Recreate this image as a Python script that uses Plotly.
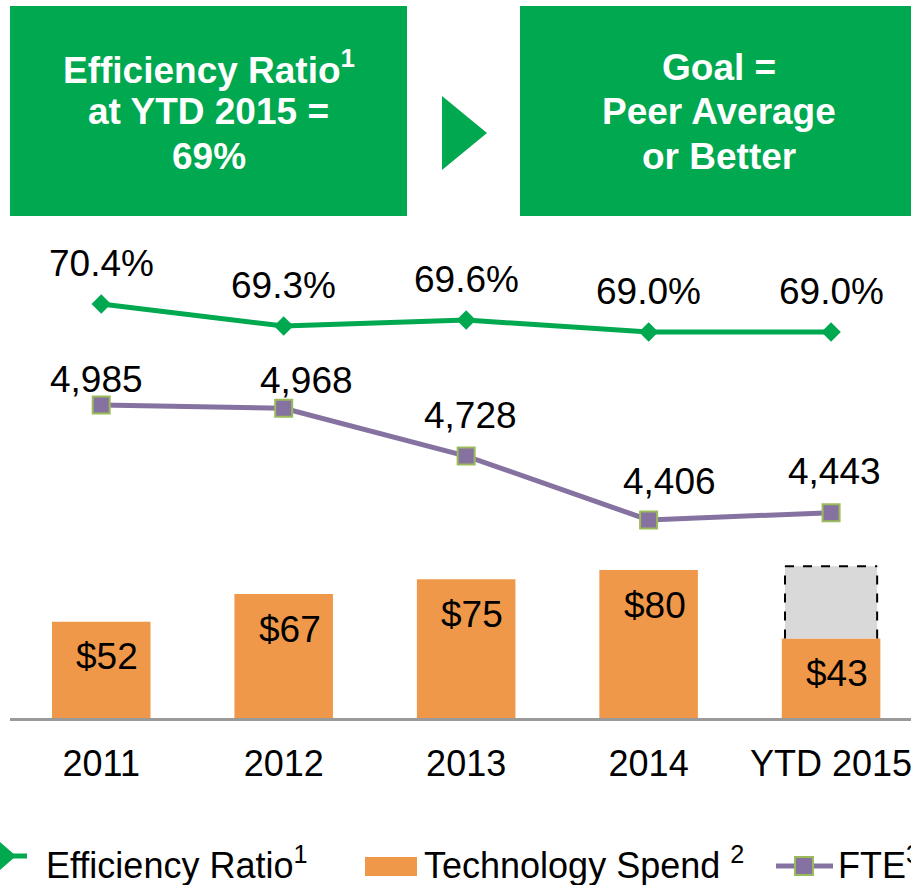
import plotly.graph_objects as go

# ---------------- data ----------------
years = ["2011", "2012", "2013", "2014", "YTD 2015"]
efficiency_ratio = [70.4, 69.3, 69.6, 69.0, 69.0]          # %
fte = [4985, 4968, 4728, 4406, 4443]                        # headcount
tech_spend = [52, 67, 75, 80, 43]                           # $ millions
tech_spend_full_year_est = [None, None, None, None, 82]     # dashed grey estimate

eff_labels = [f"{v:.1f}%" for v in efficiency_ratio]
fte_labels = [f"{v:,}" for v in fte]
tech_labels = [f"${v}" for v in tech_spend]

# ---------------- style ----------------
GREEN = "#00A84F"
ORANGE = "#F0984A"
PURPLE = "#8572A0"
PURPLE_EDGE = "#9BBB59"
GREY_FILL = "#D9D9D9"
AXIS_GREY = "#9A9A9A"
FONT = "Liberation Sans, Arial, sans-serif"

W, H = 911, 885
L, R, T, B = 10, 911, 230, 718   # plot area in pixels


def px(x):
    return (x - L) / (R - L)


def py(y):
    return (B - y) / (B - T)


fig = go.Figure()

# bars
fig.add_trace(go.Bar(
    x=years, y=tech_spend, yaxis="y", width=0.54,
    marker=dict(color=ORANGE, line=dict(width=0)),
    name="Technology Spend", showlegend=False, hoverinfo="skip",
))
est_idx = [i for i, v in enumerate(tech_spend_full_year_est) if v is not None]
fig.add_trace(go.Bar(
    x=[years[i] for i in est_idx],
    y=[tech_spend_full_year_est[i] - tech_spend[i] for i in est_idx],
    base=[tech_spend[i] for i in est_idx],
    yaxis="y", width=0.505,
    marker=dict(color=GREY_FILL, line=dict(width=0)),
    showlegend=False, hoverinfo="skip",
))

# efficiency ratio line
fig.add_trace(go.Scatter(
    x=years, y=efficiency_ratio, yaxis="y2", mode="lines+markers",
    line=dict(color=GREEN, width=5),
    marker=dict(symbol="diamond", size=15, color=GREEN),
    showlegend=False, hoverinfo="skip",
))

# FTE line
fig.add_trace(go.Scatter(
    x=years, y=fte, yaxis="y3", mode="lines+markers",
    line=dict(color=PURPLE, width=5),
    marker=dict(symbol="square", size=17, color=PURPLE,
                line=dict(color=PURPLE_EDGE, width=2)),
    showlegend=False, hoverinfo="skip",
))

annotations = []
label_font = dict(family=FONT, size=37, color="black")

# efficiency labels (x given as category index)
for i, (v, t) in enumerate(zip(efficiency_ratio, eff_labels)):
    annotations.append(dict(x=i, y=v, xref="x", yref="y2", text=t, showarrow=False,
                            yanchor="middle", yshift=41, font=label_font))

# FTE labels (a couple nudged as in original)
fte_shift = [(-5, 25), (23, 28), (4, 41), (21, 38), (3, 41)]
for i, ((v, t), (dx, dy)) in enumerate(zip(zip(fte, fte_labels), fte_shift)):
    annotations.append(dict(x=i, y=v, xref="x", yref="y3", text=t, showarrow=False,
                            yanchor="middle", xshift=dx, yshift=dy, font=label_font))

# bar labels
for i, (v, t) in enumerate(zip(tech_spend, tech_labels)):
    annotations.append(dict(x=i, y=v, xref="x", yref="y", text=t, showarrow=False,
                            yanchor="middle", xshift=6, yshift=-35, font=label_font))

shapes = []
# dashed outline of estimate box
for i in est_idx:
    x0, x1 = i - 0.2525, i + 0.2525
    y0, y1 = tech_spend[i], tech_spend_full_year_est[i]
    dash = dict(color="black", width=2, dash="dash")
    shapes.append(dict(type="line", xref="x", yref="y", x0=x0, x1=x0, y0=y0, y1=y1, line=dash))
    shapes.append(dict(type="line", xref="x", yref="y", x0=x0, x1=x1, y0=y1, y1=y1, line=dash))
    shapes.append(dict(type="line", xref="x", yref="y", x0=x1, x1=x1, y0=y0, y1=y1, line=dash))

# header boxes
shapes.append(dict(type="rect", xref="paper", yref="paper",
                   x0=px(10), x1=px(407), y0=py(216), y1=py(6),
                   fillcolor=GREEN, line=dict(width=0)))
shapes.append(dict(type="rect", xref="paper", yref="paper",
                   x0=px(520), x1=px(925), y0=py(216), y1=py(6),
                   fillcolor=GREEN, line=dict(width=0)))
shapes.append(dict(type="path", xref="paper", yref="paper",
                   path=f"M {px(442)} {py(96)} L {px(487)} {py(133)} L {px(442)} {py(170)} Z",
                   fillcolor=GREEN, line=dict(width=0)))

box_font = dict(family=FONT, size=37, color="white")
left_lines = ["<b>Efficiency Ratio<sup>1</sup></b>", "<b>at YTD 2015 =</b>", "<b>69%</b>"]
right_lines = ["<b>Goal =</b>", "<b>Peer Average</b>", "<b>or Better</b>"]
for ypix, lt, rt in zip([68, 112, 156], left_lines, right_lines):
    annotations.append(dict(xref="paper", yref="paper", x=px(208.5), y=py(ypix),
                            text=lt, showarrow=False, xanchor="center", yanchor="middle",
                            font=box_font))
    annotations.append(dict(xref="paper", yref="paper", x=px(718.5), y=py(ypix),
                            text=rt, showarrow=False, xanchor="center", yanchor="middle",
                            font=box_font))

# custom legend
shapes.append(dict(type="line", xref="paper", yref="paper",
                   x0=px(-5), x1=px(27), y0=py(856), y1=py(856),
                   line=dict(color=GREEN, width=5)))
shapes.append(dict(type="path", xref="paper", yref="paper",
                   path=f"M {px(-12)} {py(856)} L {px(0)} {py(842)} L {px(16)} {py(856)} L {px(0)} {py(870)} Z",
                   fillcolor=GREEN, line=dict(width=0)))
shapes.append(dict(type="rect", xref="paper", yref="paper",
                   x0=px(365), x1=px(417), y0=py(876), y1=py(857),
                   fillcolor=ORANGE, line=dict(width=0)))
shapes.append(dict(type="line", xref="paper", yref="paper",
                   x0=px(776), x1=px(833), y0=py(866), y1=py(866),
                   line=dict(color=PURPLE, width=5)))
shapes.append(dict(type="rect", xref="paper", yref="paper",
                   x0=px(795), x1=px(813), y0=py(875), y1=py(857),
                   fillcolor=PURPLE, line=dict(color=PURPLE_EDGE, width=2)))

leg_font = dict(family=FONT, size=36, color="black")
for xpix, txt in [(45, "Efficiency Ratio<sup>1</sup>"),
                  (423, "Technology Spend <sup>2</sup>"),
                  (837, "FTE<sup>3</sup>")]:
    annotations.append(dict(xref="paper", yref="paper", x=px(xpix), y=py(863),
                            text=txt, showarrow=False, xanchor="left", yanchor="middle",
                            borderpad=0, font=leg_font))

fig.update_layout(
    width=W, height=H,
    margin=dict(l=L, r=W - R, t=T, b=H - B, pad=0),
    paper_bgcolor="white", plot_bgcolor="white",
    barmode="overlay",
    showlegend=False,
    font=dict(family=FONT, color="black"),
    xaxis=dict(type="category", range=[-0.5, 4.438], showgrid=False, zeroline=False,
               showline=True, linecolor=AXIS_GREY, linewidth=2.5,
               ticks="outside", ticklen=12, tickcolor="rgba(0,0,0,0)",
               tickfont=dict(family=FONT, size=36, color="black"), anchor="y"),
    yaxis=dict(range=[0, 263.8], visible=False, fixedrange=True),
    yaxis2=dict(range=[49.7, 74.1], overlaying="y", visible=False),
    yaxis3=dict(range=[3409, 5866], overlaying="y", visible=False),
    annotations=annotations,
    shapes=shapes,
)

fig.write_html("out.html",
               config={"displayModeBar": False},
               post_script="document.body.style.margin='0';document.body.style.overflow='hidden';")
